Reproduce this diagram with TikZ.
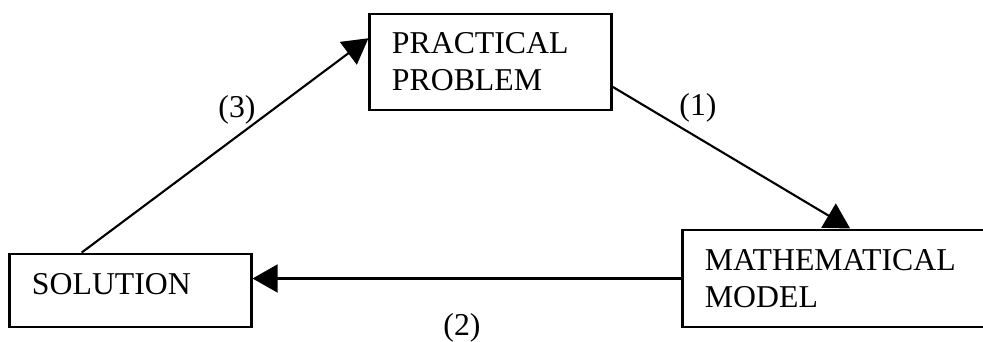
\documentclass[tikz,border=0pt]{standalone}
\usepackage{fontspec}
\setmainfont{Liberation Serif}
\usetikzlibrary{arrows.meta, calc}

\begin{document}
\begin{tikzpicture}[
    x=0.025cm, y=-0.025cm,
    >={Triangle[length=0.63cm, width=0.7cm]},
    stage/.style={rectangle, draw=black, line width=2.1pt, align=left,
                  inner xsep=0.55cm, inner ysep=0pt,
                  font=\fontsize{22.6}{26.3}\selectfont},
    flow/.style={->, line width=1.5pt},
    tag/.style={font=\fontsize{22.6}{26.3}\selectfont, inner sep=0pt}
]
\useasboundingbox (0,0) rectangle (983,341);

\node[stage, text width=4.925cm, minimum height=2.4cm] (problem) at (490.5,62)
    {PRACTICAL\\PROBLEM};
\node[stage, text width=4.925cm, minimum height=1.825cm, text depth=0.33cm]
    (solution) at (130.5,290.5) {SOLUTION};
\node[stage, text width=6.825cm, minimum height=2.425cm] (model) at (841.5,278.5)
    {MATHEMATICAL\\MODEL};

% the three steps of the cycle
\draw[flow] ($(problem.north east)!0.75!(problem.south east)$)
    -- ($(model.north west)!0.527!(model.north east)$);
\draw[flow] (model.west) -- (solution.east |- model.west);
\draw[flow] ($(solution.north west)!0.3!(solution.north east)$)
    -- ($(problem.north west)!0.26!(problem.south west)$);

\node[tag] (step1) at (698,108) {(1)};
\node[tag] (step2) at (462,328) {(2)};
\node[tag] (step3) at (237,110) {(3)};
\end{tikzpicture}
\end{document}
